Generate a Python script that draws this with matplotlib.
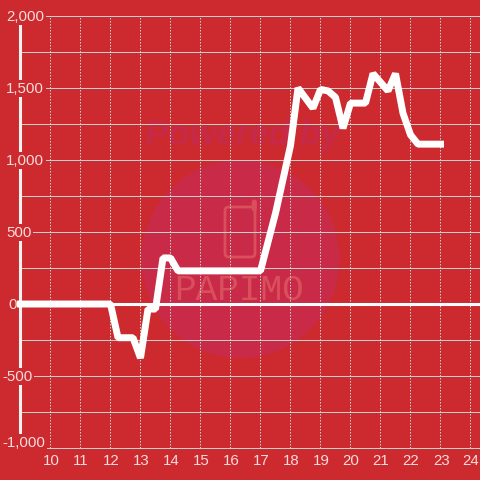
import matplotlib
matplotlib.use("Agg")
import matplotlib.pyplot as plt
from matplotlib.patches import Circle, FancyBboxPatch

# Stundenwerte (Uhrzeit, Wert)
hours = [9, 12, 12.25, 12.75, 13, 13.25, 13.5, 13.75, 14, 14.25, 17, 17.5, 18, 18.25,
         18.75, 19, 19.25, 19.5, 19.75, 20, 20.5, 20.75, 21.25, 21.5, 21.75, 22, 22.25, 23]
values = [0, 0, -234, -234, -375, -35, -35, 320, 320, 230, 230, 630, 1100, 1500,
          1360, 1490, 1480, 1435, 1220, 1395, 1395, 1600, 1480, 1600, 1325, 1175, 1110, 1110]

x_ticks = list(range(10, 25))
y_major = [2000, 1500, 1000, 500, 0, -500, -1000]
y_minor = [1750, 1250, 750, 250, -250, -750]
y_labels = ["2,000", "1,500", "1,000", "500", "0", "-500", "-1,000"]

RED = "#cc2a2e"
GRID = "#c8d0cb"
LABEL = "#f6dcdc"
MARK = "#d94f5c"

plt.rcParams["font.family"] = ["Liberation Sans", "DejaVu Sans"]

fig = plt.figure(figsize=(4.8, 4.8), dpi=100, facecolor=RED)
ax = fig.add_axes([0, 0, 1, 1], facecolor=RED)
ax.set_xlim(8.3167, 24.3167)
ax.set_ylim(-1222, 2111)
ax.axis("off")


def px(x, y):
    return x / 480, 1 - y / 480


# Wasserzeichen
ax.add_patch(Circle(px(240.5, 259), 99 / 480, transform=ax.transAxes, color="#c92a47", lw=0, zorder=1))
ax.text(*px(243, 136), "Powered by", transform=ax.transAxes, ha="center", va="center", color="#c62a48",
        fontsize=25, fontweight="bold", fontstyle="italic", zorder=1)
ax.add_patch(FancyBboxPatch(px(225, 257), 30 / 480, 50 / 480, boxstyle="round,pad=0,rounding_size=0.008",
                            transform=ax.transAxes, fc="none", ec=MARK, lw=2, zorder=1))
ax.add_patch(FancyBboxPatch(px(253, 210), 2.5 / 480, 9 / 480, boxstyle="round,pad=0,rounding_size=0.003",
                            transform=ax.transAxes, fc="none", ec=MARK, lw=2, zorder=1))
ax.text(*px(239, 291), "PAPIMO", transform=ax.transAxes, ha="center", va="center",
        color=MARK, fontsize=26, family="Liberation Mono", zorder=1)

# Gitter
ax.hlines(y_major + y_minor, 9, 24.4, color=GRID, lw=0.72, zorder=2)
ax.vlines(x_ticks, -1000, 2000, color=GRID, lw=0.72, linestyles=(0, (1.5, 1.5)), zorder=2)
ax.hlines(0, 9, 24.4, color="white", lw=2.2, zorder=3)
ax.vlines(9, -925, 2000, color="#f2f2f2", lw=2.2, zorder=3)

# Kurve
ax.plot(hours, values, color="white", lw=5, solid_joinstyle="bevel", solid_capstyle="projecting", zorder=5)

# Beschriftung (Textanfang in Pixeln, negative Werte weiter links)
box = dict(facecolor=RED, edgecolor="none", pad=1.2)
for v, s in zip(y_major, y_labels):
    y = -962 if v == -1000 else v - 4
    left = 8 if v == 0 else (2 if v < 0 else 6)
    ax.text(8.3167 + left / 30, y, s, ha="left", va="center", color=LABEL, fontsize=10.8, bbox=box, zorder=4)
for t in x_ticks:
    ax.text(t + 0.02, -1090, str(t), ha="center", va="center", color=LABEL, fontsize=10.8, zorder=4)

fig.savefig("out.png", dpi=100, facecolor=RED)
